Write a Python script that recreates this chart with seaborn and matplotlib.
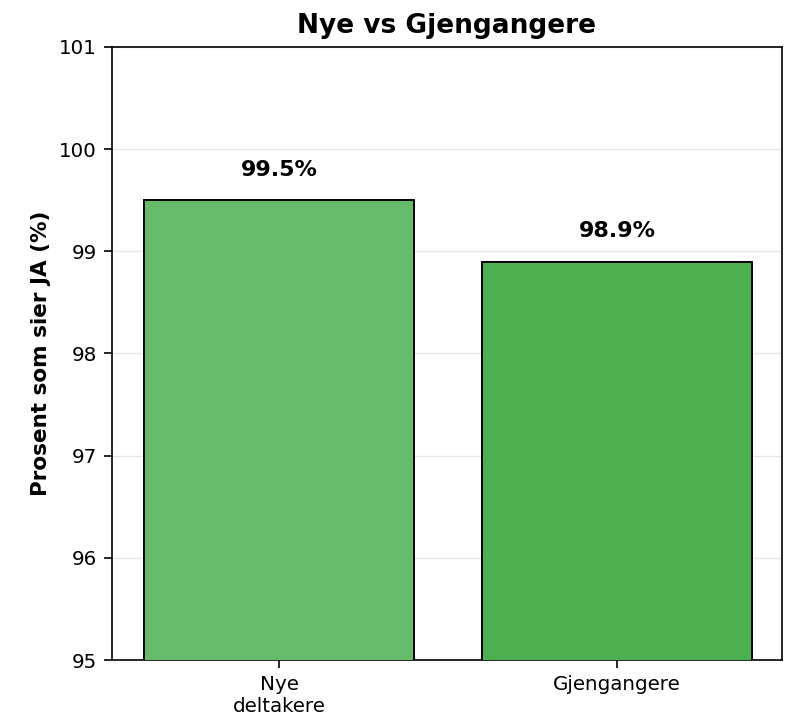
import seaborn as sns
import matplotlib.pyplot as plt
import pandas as pd

grupper = ["Nye\ndeltakere", "Gjengangere"]
andel_ja = [99.5, 98.9]
farger = ["#66BB6A", "#4CAF50"]

sns.set_style("white")
plt.rcParams['font.family'] = ['DejaVu Sans']
plt.rcParams['text.color'] = 'black'
plt.rcParams['axes.labelcolor'] = 'black'
plt.rcParams['xtick.color'] = 'black'
plt.rcParams['ytick.color'] = 'black'

df = pd.DataFrame({"gruppe": grupper, "andel": andel_ja})

fig = plt.figure(figsize=(7.95, 7.15), dpi=100)
ax = fig.add_axes([0.1409, 0.0769, 0.8427, 0.8574])

sns.barplot(data=df, x="gruppe", y="andel", hue="gruppe", palette=farger,
            legend=False, width=0.8, edgecolor="black", linewidth=1.4,
            saturation=1, ax=ax, zorder=3)

# prosent over hver stolpe
for i, v in enumerate(andel_ja):
    ax.text(i, v + 0.3, f"{v}%", ha="center", va="center",
            fontsize=16, fontweight="bold")

ax.set_ylim(95, 101)
ax.set_xlim(-0.494, 1.488)
ax.set_title("Nye vs Gjengangere", fontsize=19, fontweight="bold", pad=10)
ax.set_ylabel("Prosent som sier JA (%)", fontsize=15.5, fontweight="bold", labelpad=6)
ax.set_xlabel("")
ax.tick_params(axis="both", labelsize=14.3, length=6, width=1.2, pad=5,
               left=True, bottom=True)
ax.yaxis.grid(True, color="#e6e6e6", linewidth=1, zorder=0)
ax.set_axisbelow(True)
for s in ax.spines.values():
    s.set_color("black")
    s.set_linewidth(1.2)

fig.savefig("out.png", dpi=100)
